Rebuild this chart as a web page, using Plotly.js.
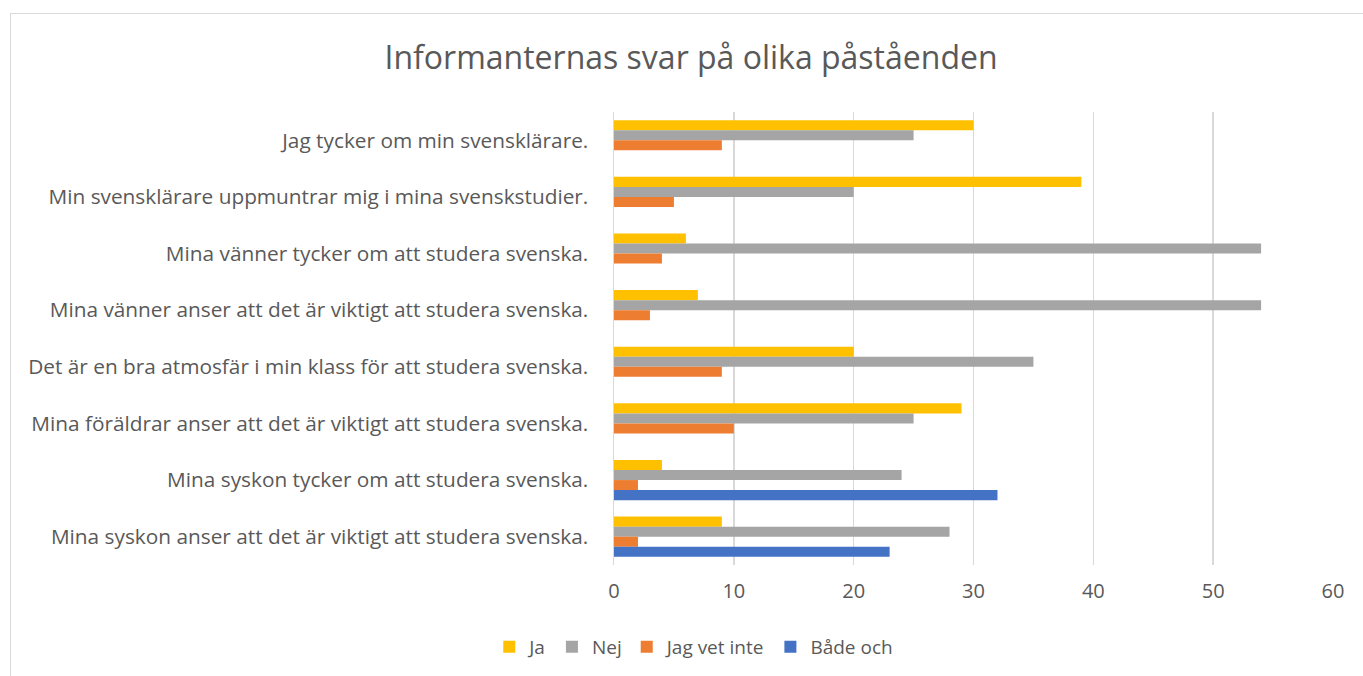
<!DOCTYPE html>
<html>
<head>
<meta charset="utf-8">
<script src="https://cdn.plot.ly/plotly-3.0.1.min.js"></script>
<style>
html,body{margin:0;padding:0;background:#fff;}
#wrap{position:relative;width:1363px;height:676px;overflow:hidden;}
#chart{position:absolute;left:0;top:0;width:1363px;height:676px;}
#frame{position:absolute;left:10px;top:13px;width:1400px;height:700px;border:1px solid #D9D9D9;box-sizing:border-box;pointer-events:none;}
</style>
</head>
<body>
<div id="wrap"><div id="chart"></div><div id="frame"></div></div>
<script>
const categories = [
  "Jag tycker om min svensklärare.",
  "Min svensklärare uppmuntrar mig i mina svenskstudier.",
  "Mina vänner tycker om att studera svenska.",
  "Mina vänner anser att det är viktigt att studera svenska.",
  "Det är en bra atmosfär i min klass för att studera svenska.",
  "Mina föräldrar anser att det är viktigt att studera svenska.",
  "Mina syskon tycker om att studera svenska.",
  "Mina syskon anser att det är viktigt att studera svenska."
];
const seriesNames = ["Ja", "Nej", "Jag vet inte", "Både och"];
const ja = [30, 39, 6, 7, 20, 29, 4, 9];
const nej = [25, 20, 54, 54, 35, 25, 24, 28];
const vetInte = [9, 5, 4, 3, 9, 10, 2, 2];
const badeOch = [0, 0, 0, 0, 0, 0, 32, 23];
const xTicks = [0, 10, 20, 30, 40, 50, 60];
const colors = ["#FFC000", "#A5A5A5", "#ED7D31", "#4472C4"];

const values = [ja, nej, vetInte, badeOch];
const traces = values.map((v, i) => ({
  type: "bar",
  orientation: "h",
  name: seriesNames[i],
  y: categories,
  x: v,
  marker: {color: colors[i]},
  hoverinfo: "x+name"
}));

const font = "Open Sans, Liberation Sans, sans-serif";
const layout = {
  width: 1363, height: 676,
  margin: {l: 614, r: 30, t: 112, b: 111},
  paper_bgcolor: "rgba(0,0,0,0)",
  plot_bgcolor: "#fff",
  barmode: "group",
  bargap: 0.29,
  bargroupgap: 0,
  title: {
    text: "Informanternas svar på olika påståenden",
    font: {family: font, size: 32, color: "#595959"},
    x: 0.507, xref: "container", xanchor: "center",
    y: 0.915, yref: "container", yanchor: "middle"
  },
  xaxis: {
    range: [0, 60],
    tickvals: xTicks,
    ticktext: xTicks.map(String),
    showgrid: true,
    gridcolor: "#D9D9D9",
    gridwidth: 1.5,
    zeroline: false,
    showline: false,
    ticks: "",
    ticklabelstandoff: 12,
    tickfont: {family: font, size: 20, color: "#595959"},
    fixedrange: true
  },
  yaxis: {
    type: "category",
    autorange: "reversed",
    showgrid: false,
    zeroline: false,
    showline: true,
    linecolor: "#D9D9D9",
    linewidth: 1.5,
    ticks: "",
    ticklabelstandoff: 20,
    tickfont: {family: font, size: 20.8, color: "#595959"},
    fixedrange: true
  },
  legend: {
    orientation: "h",
    x: 0.509, xref: "container", xanchor: "center",
    y: 0.043, yref: "container", yanchor: "middle",
    font: {family: font, size: 19, color: "#595959"},
    itemwidth: 30,
    traceorder: "normal"
  },
  showlegend: true
};

Plotly.newPlot("chart", traces, layout, {displayModeBar: false, staticPlot: true});
</script>
</body>
</html>
